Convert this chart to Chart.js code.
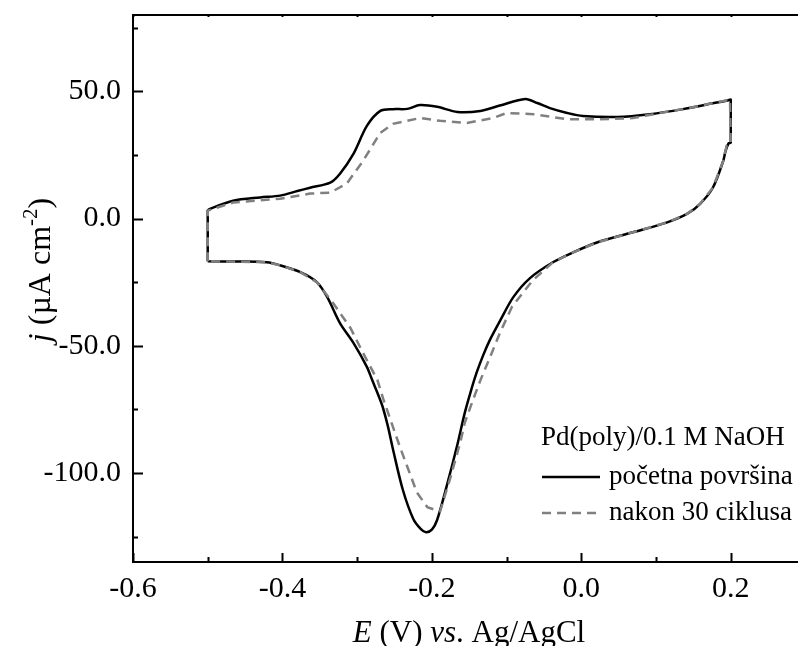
<!DOCTYPE html>
<html>
<head>
<meta charset="utf-8">
<script src="https://cdn.jsdelivr.net/npm/chart.js@4.4.0/dist/chart.umd.min.js"></script>
<style>
  html, body { margin: 0; padding: 0; background: #fff; }
</style>
</head>
<body>
<canvas id="cv" width="798" height="646"></canvas>
<script>
// CV data, E in V vs Ag/AgCl, j in µA cm-2
// početna površina (solid)
const solidE = [-0.5, -0.5, -0.5, -0.497, -0.466, -0.43, -0.403, -0.38, -0.363, -0.336, -0.323, -0.305, -0.287, -0.269,
  -0.252, -0.233, -0.216, -0.193, -0.166, -0.135, -0.109, -0.075, -0.059, -0.042, -0.019, 0.002, 0.048,
  0.092, 0.136, 0.176, 0.196, 0.2, 0.2, 0.2, 0.2, 0.197, 0.193, 0.19, 0.176, 0.159, 0.142, 0.115, 0.069, 0.021,
  -0.011, -0.038, -0.069, -0.091, -0.109, -0.122, -0.131, -0.14, -0.148, -0.156, -0.166, -0.18, -0.193, -0.2, -0.208,
  -0.215, -0.225, -0.239, -0.252, -0.259, -0.267, -0.28, -0.287, -0.305, -0.323, -0.34, -0.354, -0.376, -0.403,
  -0.421, -0.46, -0.5];
const solidJ = [-16.8, 2.6, 3.1, 3.8, 7, 8.3, 9, 10.8, 12.1, 14.1, 17.6, 25.4, 36.4, 42.3,
  43, 43.1, 44.6, 43.9, 41.9, 42.3, 44.4, 47, 45.4, 43.4, 41.5, 40.3, 39.9,
  41, 43, 45.3, 46.4, 46.8, 46.2, 30.4, 29.8, 29.5, 26.5, 22.7, 12.1, 5.8, 1.9, -1.5, -5.4, -9.4,
  -13.3, -17.2, -23.5, -30.9, -40.3, -47.5, -53.5, -60.5, -68, -76.4, -89, -105, -118.5, -122.3, -123.3,
  -122, -118, -106.5, -90.8, -81.5, -73, -63.4, -58.3, -48.9, -41.1, -30.9, -25, -21.1, -18.4,
  -17.2, -16.9, -16.8];

// nakon 30 ciklusa (dashed)
const dashE = [-0.5, -0.5, -0.466, -0.403, -0.363, -0.336, -0.314, -0.292, -0.269, -0.252, -0.216, -0.189,
  -0.153, -0.118, -0.1, -0.064, -0.019, 0.025, 0.069, 0.1, 0.136, 0.176, 0.199, 0.2, 0.195, 0.19, 0.176,
  0.159, 0.142, 0.115, 0.069, 0.021, -0.011, -0.038, -0.065, -0.086, -0.093, -0.109, -0.122, -0.135,
  -0.145, -0.156, -0.162, -0.176, -0.189, -0.206, -0.22, -0.243, -0.265, -0.273, -0.292, -0.309, -0.332,
  -0.354, -0.376, -0.403, -0.421, -0.5];
const dashJ = [-16.8, 3.1, 6.3, 7.8, 9.8, 10.2, 13.7, 22.7, 33.7, 37.2, 39.5, 38.4,
  37.6, 39.5, 41.5, 41, 39, 39, 39.5, 41.2, 43, 45.3, 46.7, 29.8, 29.4, 22.7, 12.1,
  5.8, 1.9, -1.5, -5.4, -9.4, -13.3, -17.2, -24.3, -32.1, -34.8, -45, -54.4, -63.5,
  -71.3, -80.3, -88, -102.6, -115.1, -113.5, -107.7, -89.6, -71, -63.4, -52.9, -43, -33.3,
  -25, -21.1, -18.4, -17.2, -16.8];

const seriesNames = ["početna površina", "nakon 30 ciklusa"];
const legendTitle = "Pd(poly)/0.1 M NaOH";

const xMajor = [-0.6, -0.4, -0.2, 0.0, 0.2];
const xMinor = [-0.5, -0.3, -0.1, 0.1];
const yMajor = [-100, -50, 0, 50];
const yMinor = [-125, -75, -25, 25, 75];

const SERIF = '"Liberation Serif", "Times New Roman", serif';

function toPoints(xs, ys) {
  return xs.map((x, i) => ({ x: x, y: ys[i] }));
}

// draws a run of text pieces with different fonts, centred on cx, on baseline y
function drawRich(ctx, parts, cx, y) {
  let w = 0;
  parts.forEach(p => { ctx.font = p.font; p.w = ctx.measureText(p.t).width; w += p.w; });
  let x = cx - w / 2;
  ctx.textBaseline = "alphabetic";
  ctx.textAlign = "left";
  parts.forEach(p => {
    ctx.font = p.font;
    ctx.fillText(p.t, x, y + (p.dy || 0));
    x += p.w;
  });
}

const framePlugin = {
  id: "frame",
  afterDraw(chart) {
    const { ctx, chartArea: a, scales: { x, y } } = chart;
    ctx.save();
    ctx.strokeStyle = "#000";
    ctx.lineWidth = 2;
    ctx.beginPath();
    ctx.moveTo(a.left - 1, a.top);
    ctx.lineTo(a.right, a.top);
    ctx.stroke();

    // inward ticks
    ctx.beginPath();
    xMajor.concat(xMinor).forEach(v => {
      const px = Math.round(x.getPixelForValue(v)) + 0.5;
      const len = xMajor.includes(v) ? 9 : 5;
      ctx.moveTo(px, a.bottom);
      ctx.lineTo(px, a.bottom - len);
      ctx.moveTo(px, a.top);
      ctx.lineTo(px, a.top + 2);
    });
    yMajor.concat(yMinor).forEach(v => {
      const py = Math.round(y.getPixelForValue(v)) + 0.5;
      const len = yMajor.includes(v) ? 10 : 5;
      ctx.moveTo(a.left, py);
      ctx.lineTo(a.left + len, py);
    });
    ctx.stroke();

    // axis titles
    ctx.fillStyle = "#000";
    drawRich(ctx, [
      { t: "E", font: "italic 31px " + SERIF },
      { t: " (V) ", font: "31px " + SERIF },
      { t: "vs", font: "italic 31px " + SERIF },
      { t: ". Ag/AgCl", font: "31px " + SERIF }
    ], 469, 642);

    ctx.translate(50, 270);
    ctx.rotate(-Math.PI / 2);
    drawRich(ctx, [
      { t: "j", font: "italic 32px " + SERIF },
      { t: " (µA cm", font: "32px " + SERIF },
      { t: "-2", font: "21px " + SERIF, dy: -13 },
      { t: ")", font: "32px " + SERIF }
    ], 0, 0);
    ctx.restore();

    // legend
    ctx.save();
    ctx.fillStyle = "#000";
    ctx.font = "27px " + SERIF;
    ctx.textBaseline = "middle";
    ctx.textAlign = "left";
    ctx.fillText(legendTitle, 541, 438);
    chart.data.datasets.forEach((ds, i) => {
      const ly = 477 + i * 36;
      ctx.strokeStyle = ds.borderColor;
      ctx.lineWidth = ds.borderWidth;
      ctx.setLineDash(ds.borderDash || []);
      ctx.beginPath();
      ctx.moveTo(542, ly);
      ctx.lineTo(600, ly);
      ctx.stroke();
      ctx.setLineDash([]);
      ctx.fillText(seriesNames[i], 609, ly);
    });
    ctx.restore();
  }
};

new Chart(document.getElementById("cv"), {
  type: "scatter",
  data: {
    datasets: [
      {
        label: seriesNames[0],
        data: toPoints(solidE, solidJ),
        showLine: true,
        borderColor: "#000000",
        borderWidth: 2.5,
        pointRadius: 0,
        tension: 0.3,
        order: 2
      },
      {
        label: seriesNames[1],
        data: toPoints(dashE, dashJ),
        showLine: true,
        borderColor: "#808080",
        borderWidth: 2.5,
        borderDash: [9, 6],
        pointRadius: 0,
        tension: 0,
        order: 1
      }
    ]
  },
  plugins: [framePlugin],
  options: {
    responsive: false,
    animation: false,
    layout: { padding: { top: 15, right: 0, left: 0, bottom: 0 } },
    plugins: {
      legend: { display: false },
      tooltip: { enabled: false }
    },
    scales: {
      x: {
        type: "linear",
        min: -0.6,
        max: 0.29,
        afterBuildTicks: s => { s.ticks = xMajor.map(v => ({ value: v })); },
        afterFit: s => { s.height = 84; s.paddingLeft = 0; s.paddingRight = 0; },
        grid: { display: false, drawTicks: false },
        border: { display: true, color: "#000", width: 2 },
        ticks: {
          color: "#000",
          padding: 9,
          maxRotation: 0,
          font: { family: SERIF, size: 30 },
          callback: v => v.toFixed(1)
        }
      },
      y: {
        type: "linear",
        min: -135,
        max: 80,
        afterBuildTicks: s => { s.ticks = yMajor.map(v => ({ value: v })); },
        afterFit: s => { s.width = 133; s.paddingTop = 0; s.paddingBottom = 0; },
        grid: { display: false, drawTicks: false },
        border: { display: true, color: "#000", width: 2 },
        ticks: {
          color: "#000",
          padding: 12,
          font: { family: SERIF, size: 30 },
          callback: v => v.toFixed(1)
        }
      }
    }
  }
});
</script>
</body>
</html>
